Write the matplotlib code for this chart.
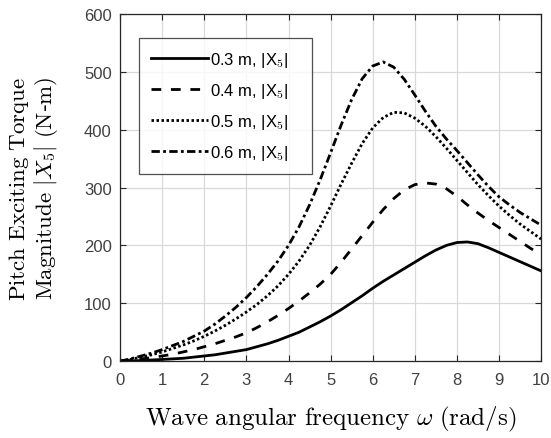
import matplotlib
matplotlib.use('Agg')
import matplotlib.pyplot as plt

plt.rcParams['mathtext.fontset'] = 'cm'
plt.rcParams['font.family'] = ['Liberation Sans', 'DejaVu Sans']

# wave angular frequency (rad/s)
omega = [0, 0.25, 0.5, 0.75, 1, 1.25, 1.5, 1.75, 2, 2.25, 2.5, 2.75, 3, 3.25, 3.5, 3.75,
         4, 4.25, 4.5, 4.75, 5, 5.25, 5.5, 5.75, 6, 6.25, 6.5, 6.75, 7, 7.25, 7.5, 7.75,
         8, 8.25, 8.5, 8.75, 9, 9.25, 9.5, 9.75, 10]

# |X5| pitch exciting torque (N-m)
x5_03 = [0, 0.5, 1, 2, 3, 4, 5, 7, 9, 11, 14, 17, 20, 25, 30, 36,
         43, 50, 59, 68, 78, 89, 101, 113, 126, 138, 149, 160, 171, 182, 192, 200,
         205, 206, 203, 196, 188, 180, 172, 164, 156]
x5_04 = [0, 2, 4, 6, 9, 12, 16, 20, 25, 30, 36, 42, 49, 58, 68, 79,
         91, 104, 118, 133, 150, 171, 194, 217, 240, 262, 281, 296, 305, 308, 306, 298,
         285, 270, 256, 243, 231, 219, 207, 195, 184]
x5_05 = [0, 3, 7, 11, 16, 22, 28, 35, 43, 52, 62, 73, 85, 98, 113, 130,
         150, 173, 200, 232, 268, 306, 342, 376, 403, 421, 430, 429, 420, 406, 388, 368,
         347, 326, 305, 286, 268, 252, 237, 224, 211]
x5_06 = [0, 4, 9, 14, 20, 27, 34, 43, 52, 64, 78, 93, 110, 129, 150, 173,
         200, 232, 270, 313, 360, 408, 452, 488, 510, 517, 508, 487, 460, 432, 406, 384,
         364, 343, 322, 302, 284, 270, 257, 246, 235]

# trailing spaces: MATLAB leaves extra room right of the legend text
labels = ['0.3 m, |X$_\\mathsf{5}$|   ', '0.4 m, |X$_\\mathsf{5}$|   ',
          '0.5 m, |X$_\\mathsf{5}$|   ', '0.6 m, |X$_\\mathsf{5}$|   ']

fig = plt.figure(figsize=(5.51, 4.39), dpi=100)
ax = fig.add_axes([0.218, 0.175, 0.764, 0.791])

ax.plot(omega, x5_03, color='black', lw=2, ls='-', label=labels[0])
ax.plot(omega, x5_04, color='black', lw=2, ls=(0, (3.5, 3.5)), label=labels[1])
ax.plot(omega, x5_05, color='black', lw=2, ls=(0, (0.9, 0.9)), label=labels[2])
ax.plot(omega, x5_06, color='black', lw=2, ls=(0, (3, 1.2, 1, 1.2)), label=labels[3])

ax.set_xlim(0, 10)
ax.set_ylim(0, 600)
ax.set_xticks(range(0, 11))
ax.set_yticks(range(0, 601, 100))
ax.grid(True, color='#d9d9d9', lw=0.9)
ax.set_axisbelow(True)
ax.tick_params(direction='in', top=True, right=True, length=4, width=0.8,
               labelsize=12, labelcolor='#404040', color='#262626')
ax.tick_params(axis='x', pad=8)
ax.tick_params(axis='y', pad=6)
for s in ax.spines.values():
    s.set_color('#262626')
    s.set_linewidth(0.9)

ax.set_xlabel(r'$\mathrm{Wave\ angular\ frequency}\ \omega\ \mathrm{(rad/s)}$', fontsize=18, labelpad=12)
ax.set_ylabel('$\\mathrm{Pitch\\ Exciting\\ Torque}$\n$\\mathrm{Magnitude}\\ |X_5|\\ \\mathrm{(N}$-$\\mathrm{m)}$',
              fontsize=16.5, labelpad=17, linespacing=1.05)

leg = ax.legend(loc='upper left', bbox_to_anchor=(0.045, 0.931), fontsize=12, handlelength=3.4,
                labelspacing=0.72, handletextpad=0.15, borderpad=0.72, fancybox=False,
                frameon=True, borderaxespad=0)
leg.get_frame().set_edgecolor('#262626')
leg.get_frame().set_linewidth(0.9)

fig.savefig('out.png', dpi=100)
